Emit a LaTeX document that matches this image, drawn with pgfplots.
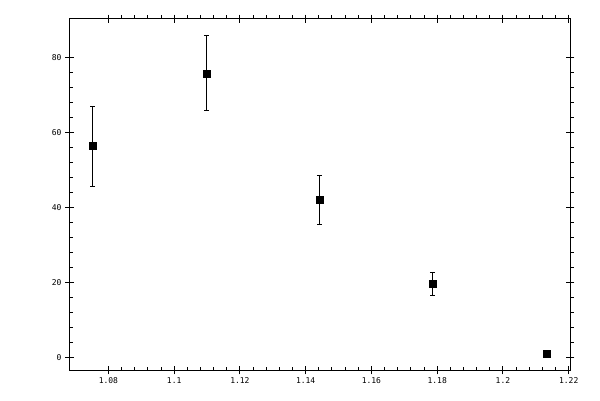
\documentclass[border=0pt]{standalone}
\usepackage{fontspec}
\setmonofont{DejaVu Sans Mono}
\usepackage{pgfplots}
\pgfplotsset{compat=1.18}
\pgfplotsset{
  common/.style={
    at={(69.3pt,30pt)}, anchor=south west,
    scale only axis, width=500.7pt, height=351pt,
    xmin=1.0681, xmax=1.2204, ymin=-3.4, ymax=90.2,
    xtick={1.08,1.1,1.12,1.14,1.16,1.18,1.2,1.22},
    ytick={0,20,40,60,80},
    axis line style={line width=1pt},
    every tick/.style={line width=1pt, black},
  }
}
\begin{document}
\begin{tikzpicture}
\useasboundingbox (0,0) rectangle (600pt,400pt);
% minor ticks, left/bottom inward
\begin{axis}[common, tick pos=left, tick align=inside, minor tick num=4,
  major tick length=0pt, minor tick length=3.5pt, xticklabels={}, yticklabels={}]
\end{axis}
% minor ticks, top/right outward
\begin{axis}[common, tick pos=right, tick align=outside, minor tick num=4,
  major tick length=0pt, minor tick length=3.5pt, xticklabels={}, yticklabels={}]
\end{axis}
% major ticks crossing, labels, data
\begin{axis}[common, tick pos=both, tick align=center, minor tick num=0,
  major tick length=8.5pt,
  /pgf/number format/assume math mode=true,
  ticklabel style={font=\ttfamily\fontsize{8}{8}\selectfont},
  ]
\addplot[only marks, mark=square*, mark size=3.5pt, black,
  error bars/.cd, y dir=both, y explicit,
  error bar style={line width=1pt, black},
  error mark options={line width=1pt, mark size=2.5pt, rotate=90}]
coordinates {
  (1.0752,56.3) +- (0,10.7)
  (1.1098,75.7) +- (0,10.0)
  (1.1442,41.9) +- (0,6.5)
  (1.1785,19.5) +- (0,3.1)
  (1.2132,1.07) +- (0,0)
};
\end{axis}
\end{tikzpicture}
\end{document}
